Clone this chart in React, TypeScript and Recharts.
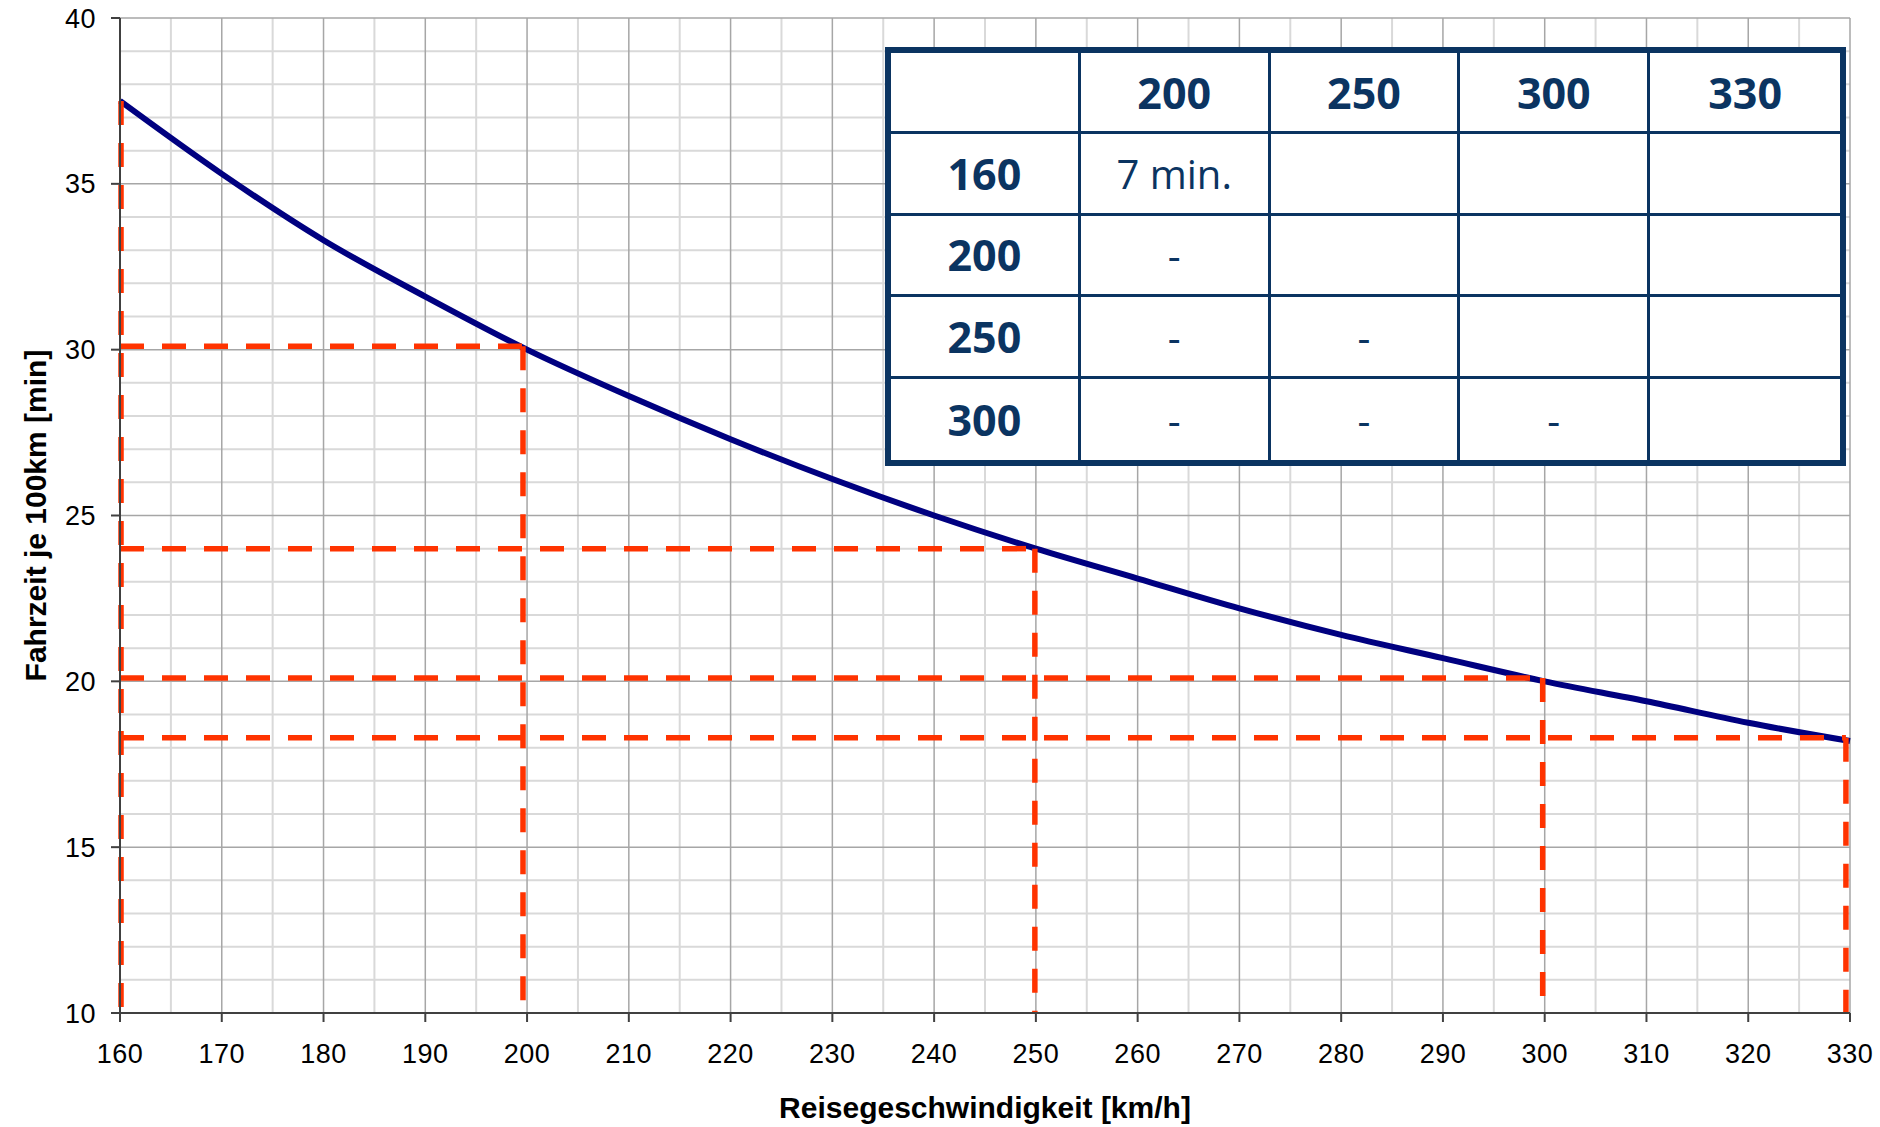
import React from "react";
import { LineChart, Line, XAxis, YAxis, ReferenceLine, Label } from "recharts";

// reise speed [km/h] vs travel time per 100 km [min]
const speeds = [160, 170, 180, 190, 200, 210, 220, 230, 240, 250, 260, 270, 280, 290, 300, 310, 320, 330];
const times = [37.5, 35.3, 33.3, 31.6, 30.0, 28.6, 27.3, 26.1, 25.0, 24.0, 23.1, 22.2, 21.4, 20.7, 20.0, 19.4, 18.75, 18.2];

// dashed guide lines (as drawn, slightly off the grid)
const guideSpeeds = [160.1, 199.6, 249.9, 299.8, 329.6];
const guideTimes = [37.5, 30.1, 24.0, 20.1, 18.3];

const xTicks = [160, 170, 180, 190, 200, 210, 220, 230, 240, 250, 260, 270, 280, 290, 300, 310, 320, 330];
const xMinor = [165, 175, 185, 195, 205, 215, 225, 235, 245, 255, 265, 275, 285, 295, 305, 315, 325];
const yTicks = [10, 15, 20, 25, 30, 35, 40];
const yMinor = [11, 12, 13, 14, 16, 17, 18, 19, 21, 22, 23, 24, 26, 27, 28, 29, 31, 32, 33, 34, 36, 37, 38, 39];

// table inset
const tableCols = ["200", "250", "300", "330"];
const tableRows = ["160", "200", "250", "300"];
const tableCells = [
  ["7 min.", "", "", ""],
  ["-", "", "", ""],
  ["-", "-", "", ""],
  ["-", "-", "-", ""],
];

const chartData = speeds.map((v, i) => ({ v, t: times[i] }));

const RED = "#ff3300";
const NAVY_TBL = "#0b3461";
const DASH = "24 18";

function XTitle(props: any) {
  const vb = props.viewBox;
  return (
    <text x={vb.x + vb.width / 2} y={vb.y + 105} textAnchor="middle" fontFamily="Liberation Sans, Arial, sans-serif" fontWeight="bold" fontSize={30} fill="#000">
      Reisegeschwindigkeit [km/h]
    </text>
  );
}

function YTitle(props: any) {
  const vb = props.viewBox;
  const cy = vb.y + vb.height / 2;
  return (
    <text x={0} y={0} transform={`translate(35, ${cy}) rotate(-90)`} textAnchor="middle" dominantBaseline="central" fontFamily="Liberation Sans, Arial, sans-serif" fontWeight="bold" fontSize={30} fill="#000">
      Fahrzeit je 100km [min]
    </text>
  );
}

function Table() {
  const cell = (content: string, r: number, c: number, bold: boolean) => (
    <div
      key={`${r}-${c}`}
      style={{
        display: "flex",
        alignItems: "center",
        justifyContent: "center",
        borderRight: c < 4 ? `3px solid ${NAVY_TBL}` : "none",
        borderBottom: r < 4 ? `3px solid ${NAVY_TBL}` : "none",
        fontWeight: bold ? 700 : 400,
        fontSize: bold ? 43 : 40,
      }}
    >
      {content}
    </div>
  );
  const cells: React.ReactNode[] = [];
  cells.push(cell("", 0, 0, true));
  tableCols.forEach((h, c) => cells.push(cell(h, 0, c + 1, true)));
  tableRows.forEach((h, r) => {
    cells.push(cell(h, r + 1, 0, true));
    tableCells[r].forEach((v, c) => cells.push(cell(v, r + 1, c + 1, false)));
  });
  return (
    <div
      style={{
        position: "absolute",
        left: 885,
        top: 47,
        width: 961,
        height: 419,
        boxSizing: "border-box",
        border: `6px solid ${NAVY_TBL}`,
        background: "#fff",
        display: "grid",
        gridTemplateColumns: "repeat(5, 1fr)",
        gridTemplateRows: "repeat(5, 1fr)",
        fontFamily: "'Open Sans', 'Noto Sans', sans-serif",
        color: NAVY_TBL,
      }}
    >
      {cells}
    </div>
  );
}

export default function App() {
  const tickStyle = { fontFamily: "Liberation Sans, Arial, sans-serif", fontSize: 27, fill: "#000", letterSpacing: 0.5 };
  return (
    <div style={{ position: "absolute", left: 0, top: 0, width: 1880, height: 1127, background: "#fff" }}>
      <LineChart width={1880} height={1127} data={chartData} margin={{ top: 18, right: 30, bottom: 0, left: 0 }}>
        {xMinor.map((x) => (
          <ReferenceLine key={`xm${x}`} x={x} stroke="#d9d9d9" strokeWidth={2} />
        ))}
        {yMinor.map((y) => (
          <ReferenceLine key={`ym${y}`} y={y} stroke="#d9d9d9" strokeWidth={2} />
        ))}
        {xTicks.slice(1).map((x) => (
          <ReferenceLine key={`xM${x}`} x={x} stroke="#a6a6a6" strokeWidth={1.5} />
        ))}
        {yTicks.slice(1).map((y) => (
          <ReferenceLine key={`yM${y}`} y={y} stroke="#a6a6a6" strokeWidth={1.5} />
        ))}
        <XAxis
          dataKey="v"
          type="number"
          domain={[160, 330]}
          ticks={xTicks}
          interval={0}
          height={114}
          tickSize={9}
          tickMargin={22}
          tick={tickStyle}
          stroke="#404040"
          strokeWidth={2}
        >
          <Label content={XTitle} />
        </XAxis>
        <YAxis
          type="number"
          domain={[10, 40]}
          ticks={yTicks}
          interval={0}
          width={120}
          tickSize={9}
          tickMargin={15}
          tick={tickStyle}
          stroke="#404040"
          strokeWidth={2}
        >
          <Label content={YTitle} />
        </YAxis>
        <Line type="monotone" dataKey="t" stroke="#000080" strokeWidth={6} dot={false} activeDot={false} isAnimationActive={false} />
        {guideSpeeds.map((s, i) => (
          <ReferenceLine
            key={`gv${s}`}
            segment={[{ x: s, y: guideTimes[i] }, { x: s, y: 10 }]}
            stroke={RED}
            strokeWidth={5.5}
            strokeDasharray={DASH}
          />
        ))}
        {guideSpeeds.slice(1).map((s, i) => (
          <ReferenceLine
            key={`gh${s}`}
            segment={[{ x: 160, y: guideTimes[i + 1] }, { x: s, y: guideTimes[i + 1] }]}
            stroke={RED}
            strokeWidth={5.5}
            strokeDasharray={DASH}
          />
        ))}
      </LineChart>
      <Table />
    </div>
  );
}
